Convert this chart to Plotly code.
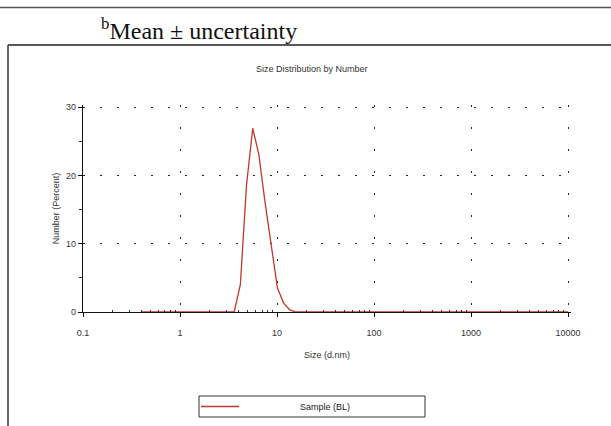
import plotly.graph_objects as go

# Size bins (d.nm) and number distribution (%)
sizes = [0.4, 0.4632, 0.5365, 0.6213, 0.7195, 0.8332, 0.9649, 1.117, 1.294, 1.499,
         1.736, 2.01, 2.328, 2.696, 3.122, 3.615, 4.187, 4.849, 5.615, 6.503,
         7.531, 8.721, 10.1, 11.7, 13.54, 15.69, 18.17, 21.04, 24.36, 28.21,
         32.67, 37.84, 43.82, 50.75, 58.77, 68.06, 78.82, 91.28, 105.7, 122.4,
         141.8, 164.2, 190.1, 220.2, 255.0, 295.3, 342.0, 396.1, 458.7, 531.2,
         615.1, 712.4, 825.0, 955.4, 1106, 1281, 1484, 1718, 1990, 2305,
         2669, 3091, 3580, 4145, 4801, 5560, 6439, 7456, 8635, 10000]
number = [0, 0, 0, 0, 0, 0, 0, 0, 0, 0,
          0, 0, 0, 0, 0, 0, 4.0, 18.6, 26.9, 23.0,
          16.0, 9.5, 3.5, 1.3, 0.3, 0, 0, 0, 0, 0,
          0, 0, 0, 0, 0, 0, 0, 0, 0, 0,
          0, 0, 0, 0, 0, 0, 0, 0, 0, 0,
          0, 0, 0, 0, 0, 0, 0, 0, 0, 0,
          0, 0, 0, 0, 0, 0, 0, 0, 0, 0]
series_name = "Sample (BL)"
x_tickvals = [0.1, 1, 10, 100, 1000, 10000]
x_ticktext = ["0.1", "1", "10", "100", "1000", "10000"]
x_minor_ticks = [0.2, 0.3, 0.4, 0.5, 0.6, 0.7, 0.8, 0.9,
                 2, 3, 4, 5, 6, 7, 8, 9,
                 20, 30, 40, 50, 60, 70, 80, 90,
                 200, 300, 400, 500, 600, 700, 800, 900,
                 2000, 3000, 4000, 5000, 6000, 7000, 8000, 9000]
y_tickvals = [0, 10, 20, 30]
y_minor_ticks = [5, 15, 25]

W, H = 611, 426
L, R, T, B = 83, 40, 105, 114
XR = [-1, 4.03]
YR = [0, 30.3]

fig = go.Figure()
fig.add_trace(go.Scatter(x=sizes, y=number, mode="lines", name=series_name,
                         line=dict(color="#c0392b", width=1.3), showlegend=False))
# invisible carrier trace for the minor-tick overlay axes
fig.add_trace(go.Scatter(x=sizes, y=number, mode="lines", xaxis="x2", yaxis="y2",
                         line=dict(width=0), opacity=0, hoverinfo="skip", showlegend=False))

axis_font = dict(family="Liberation Sans, Arial", size=9, color="#333")
fig.update_layout(
    width=W, height=H,
    margin=dict(l=L, r=R, t=T, b=B),
    paper_bgcolor="white", plot_bgcolor="white",
    showlegend=False,
    xaxis=dict(type="log", range=XR, tickvals=x_tickvals, ticktext=x_ticktext,
               showgrid=True, gridcolor="#222", gridwidth=1, griddash="2px,20px",
               showline=True, linecolor="#111", linewidth=1.2,
               ticks="outside", ticklen=4, tickcolor="#111", ticklabelstandoff=8,
               zeroline=False, tickfont=axis_font, automargin=False,
               title=dict(text="Size (d.nm)", font=axis_font, standoff=14)),
    yaxis=dict(range=YR, tickvals=y_tickvals,
               showgrid=True, gridcolor="#222", gridwidth=1, griddash="2px,15px",
               showline=True, linecolor="#111", linewidth=1.2,
               ticks="outside", ticklen=4, tickcolor="#111",
               zeroline=False, tickfont=axis_font, automargin=False,
               title=dict(text="Number (Percent)", font=axis_font, standoff=4)),
    xaxis2=dict(type="log", range=XR, overlaying="x", side="bottom", anchor="y",
                tickvals=x_minor_ticks, showticklabels=False, showgrid=False,
                showline=False, zeroline=False, ticks="inside", ticklen=2,
                tickcolor="#333", automargin=False),
    yaxis2=dict(range=YR, overlaying="y", side="left", anchor="x",
                tickvals=y_minor_ticks, showticklabels=False, showgrid=False,
                showline=False, zeroline=False, ticks="outside", ticklen=3,
                tickcolor="#333", automargin=False),
)

def px(x):
    return (x - L) / (W - L - R)

def py(y):
    return (H - B - y) / (H - T - B)

shapes = [
    dict(type="line", xref="paper", yref="paper", x0=px(0), x1=px(W), y0=py(7.5), y1=py(7.5),
         line=dict(color="#555", width=1.5)),
    dict(type="line", xref="paper", yref="paper", x0=px(8), x1=px(W), y0=py(45), y1=py(45),
         line=dict(color="#222", width=1.5)),
    dict(type="line", xref="paper", yref="paper", x0=px(8), x1=px(8), y0=py(45), y1=py(H),
         line=dict(color="#333", width=1.5)),
    dict(type="rect", xref="paper", yref="paper", x0=px(199), x1=px(425), y0=py(396), y1=py(417),
         line=dict(color="#333", width=1), fillcolor="white"),
    dict(type="line", xref="paper", yref="paper", x0=px(201), x1=px(239), y0=py(406.5), y1=py(406.5),
         line=dict(color="#c0392b", width=1.3)),
]
fig.update_layout(shapes=shapes)

annotations = [
    dict(text="<sup>b</sup>Mean ± uncertainty", xref="paper", yref="paper",
         x=px(99), y=py(29), xanchor="left", yanchor="middle", showarrow=False,
         font=dict(family="Liberation Serif, Times New Roman", size=24, color="#111")),
    dict(text="Size Distribution by Number", xref="paper", yref="paper",
         x=px(312), y=py(69), xanchor="center", yanchor="middle", showarrow=False,
         font=dict(family="Liberation Sans Narrow, Liberation Sans, Arial", size=9, color="#333")),
    dict(text=series_name, xref="paper", yref="paper",
         x=px(325), y=py(406.5), xanchor="center", yanchor="middle", showarrow=False,
         font=dict(family="Liberation Sans, Arial", size=9, color="#222")),
]
fig.update_layout(annotations=annotations)

fig.write_html("out.html", config={"displayModeBar": False},
               post_script="document.body.style.margin='0';document.body.style.overflow='hidden';")
